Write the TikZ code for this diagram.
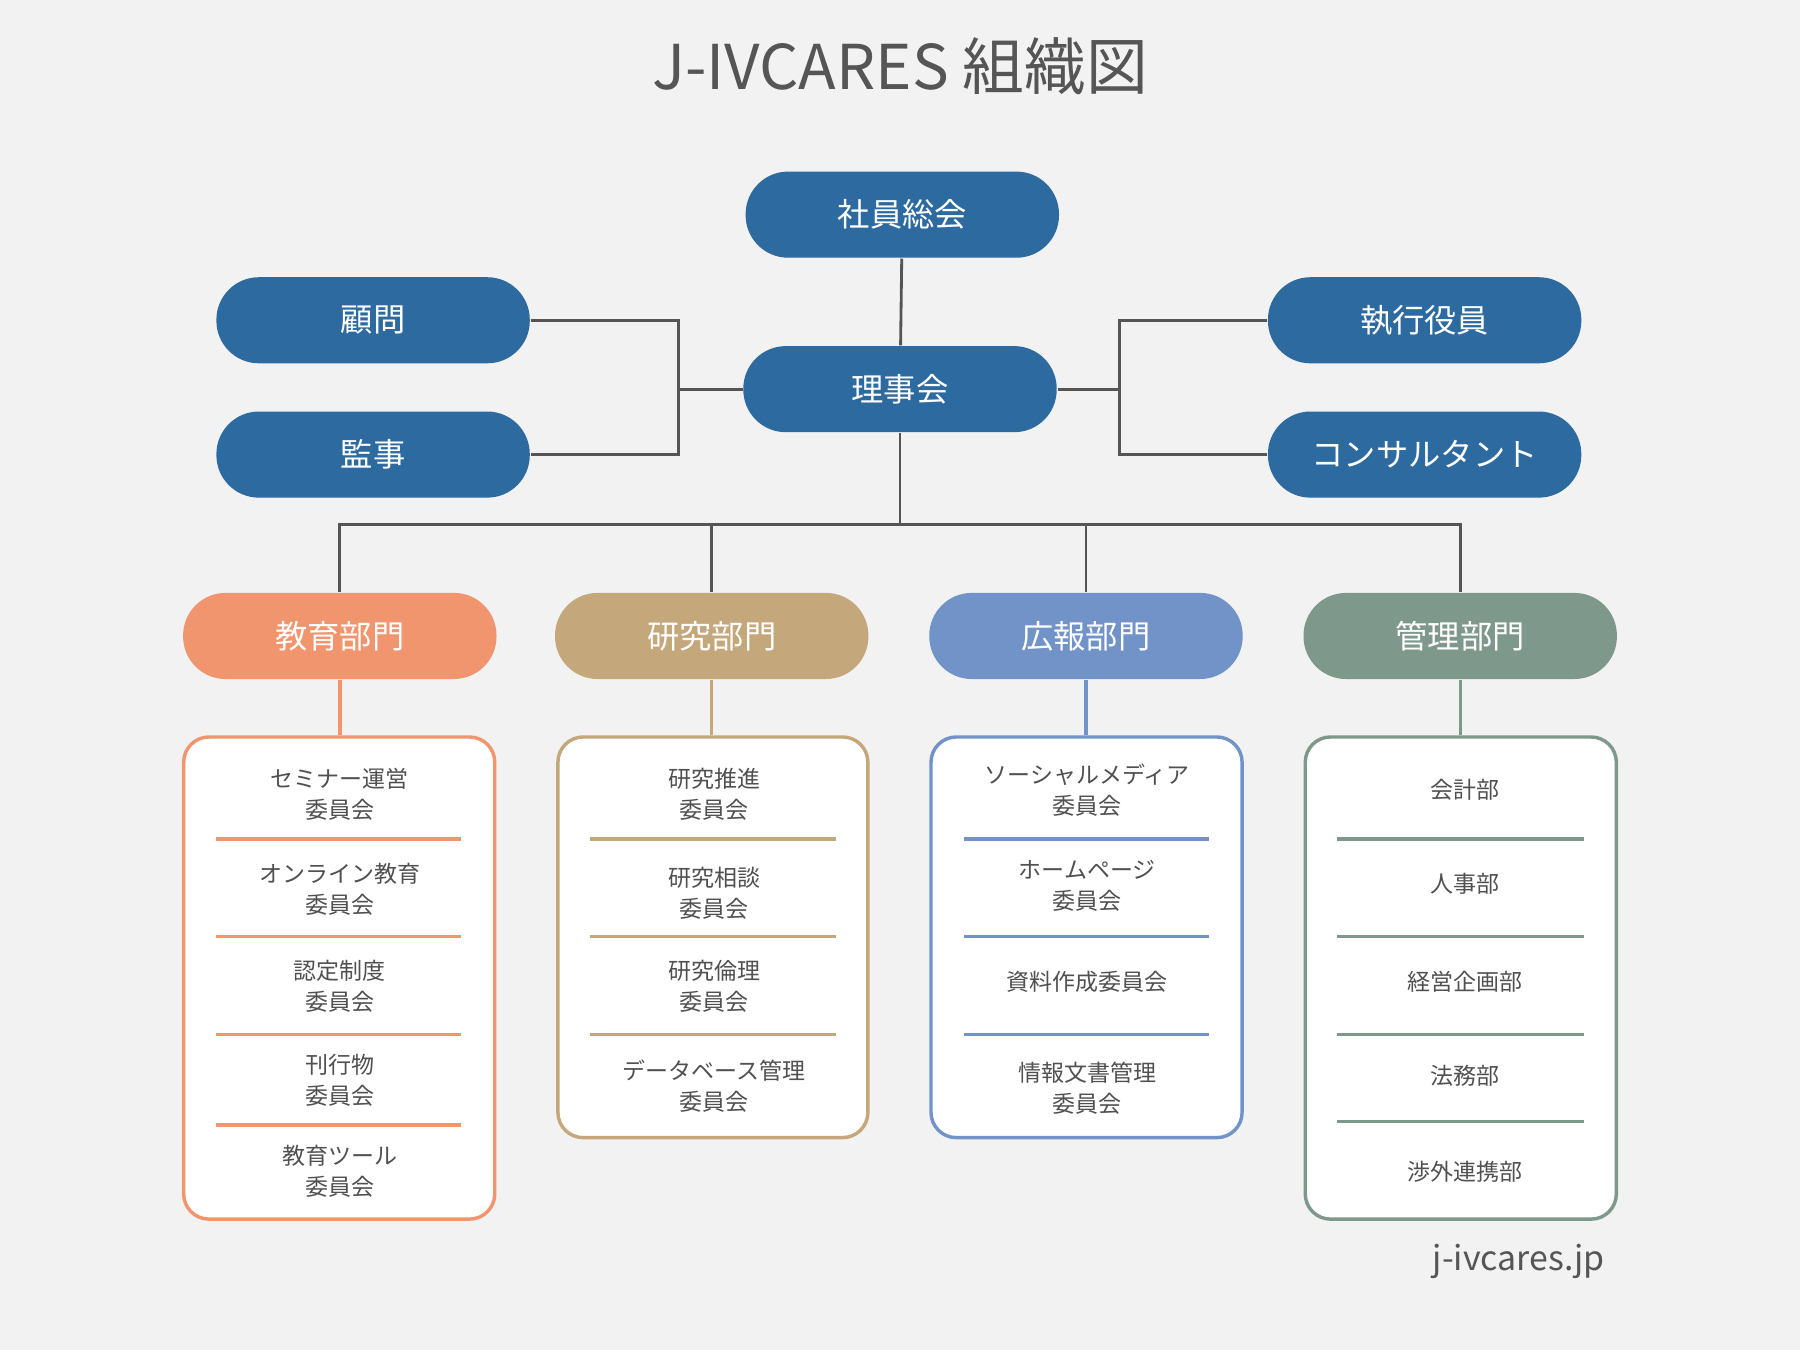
\documentclass[tikz,border=0pt]{standalone}
\usepackage{fontspec}
\setmainfont{Noto Sans CJK JP}
\usetikzlibrary{positioning,calc}

\definecolor{bgcol}{HTML}{F2F2F2}
\definecolor{mainblue}{HTML}{2D6A9F}
\definecolor{educol}{HTML}{F0956D}
\definecolor{rescol}{HTML}{C4A77B}
\definecolor{prcol}{HTML}{7293C7}
\definecolor{mgmtcol}{HTML}{7E998C}
\definecolor{linegray}{HTML}{555555}
\definecolor{txtgray}{HTML}{505050}

\begin{document}
\begin{tikzpicture}[
  every node/.style={font=\fontsize{8}{10}\selectfont},
  pill/.style={rounded corners=0.37cm, minimum width=2.73cm,
               minimum height=0.75cm, text=white, inner sep=0pt},
  unit/.style={draw, line width=0.85pt, fill=white,
               rounded corners=0.22cm, inner sep=0pt},
  item/.style={text=txtgray, align=center,
               font=\fontsize{5.7}{7.7}\selectfont},
  link/.style={draw=linegray, line width=0.7pt},
  sep/.style={line width=0.85pt},
]
\fill[bgcol] (0,0) rectangle (15.68,-11.76);

% Title
\node[text=linegray, font=\fontsize{15.3}{18}\selectfont] (title) at (7.84,-0.58) {J-IVCARES 組織図};

% Top level
\node[pill, fill=mainblue] (assembly) at (7.86,-1.87) {社員総会};
\node[pill, fill=mainblue] (board) at (7.84,-3.39) {理事会};
\node[pill, fill=mainblue] (advisor) at (3.25,-2.79) {顧問};
\node[pill, fill=mainblue] (auditor) at (3.25,-3.96) {監事};
\node[pill, fill=mainblue] (exec) at (12.41,-2.79) {執行役員};
\node[pill, fill=mainblue] (consult) at (12.41,-3.96) {コンサルタント};

\coordinate (ljoin) at (5.91,-3.39);
\coordinate (rjoin) at (9.75,-3.39);
\coordinate (bus) at (7.84,-4.57);

\draw[link] (assembly) -- (board);
\draw[link] (advisor.east) -| (ljoin |- auditor.east) -- (auditor.east);
\draw[link] (ljoin) -- (board.west);
\draw[link] (exec.west) -| (rjoin |- consult.west) -- (consult.west);
\draw[link] (rjoin) -- (board.east);

% Divisions
\node[pill, fill=educol] (edu) at (2.96,-5.54) {教育部門};
\node[pill, fill=rescol] (res) at (6.20,-5.54) {研究部門};
\node[pill, fill=prcol] (pr) at (9.46,-5.54) {広報部門};
\node[pill, fill=mgmtcol] (mgmt) at (12.72,-5.54) {管理部門};

\draw[link] (board.south) -- (bus);
\draw[link] (edu.north) |- (bus) -| (mgmt.north);
\draw[link] (res.north) -- (res.north |- bus);
\draw[link] (pr.north) -- (pr.north |- bus);

% Committee boxes
\node[unit, draw=educol, minimum width=2.71cm, minimum height=4.20cm] (eduBox) at (2.955,-8.52) {};
\node[unit, draw=rescol, minimum width=2.70cm, minimum height=3.49cm] (resBox) at (6.21,-8.165) {};
\node[unit, draw=prcol, minimum width=2.71cm, minimum height=3.49cm] (prBox) at (9.465,-8.165) {};
\node[unit, draw=mgmtcol, minimum width=2.71cm, minimum height=4.20cm] (mgmtBox) at (12.725,-8.52) {};

\draw[sep, educol] (edu.south) -- (edu.south |- eduBox.north);
\draw[sep, rescol] (res.south) -- (res.south |- resBox.north);
\draw[sep, prcol] (pr.south) -- (pr.south |- prBox.north);
\draw[sep, mgmtcol] (mgmt.south) -- (mgmt.south |- mgmtBox.north);

\foreach \y in {7.31,8.16,9.01,9.80}
  \draw[sep, educol] (1.88,-\y) -- (4.02,-\y);
\foreach \y in {7.31,8.16,9.01}
  \draw[sep, rescol] (5.14,-\y) -- (7.28,-\y);
\foreach \y in {7.31,8.16,9.01}
  \draw[sep, prcol] (8.40,-\y) -- (10.53,-\y);
\foreach \y in {7.31,8.16,9.01,9.77}
  \draw[sep, mgmtcol] (11.65,-\y) -- (13.80,-\y);

% Education items
\node[item] (e1) at (2.96,-6.92) {セミナー運営\\委員会};
\node[item] (e2) at (2.96,-7.75) {オンライン教育\\委員会};
\node[item] (e3) at (2.96,-8.59) {認定制度\\委員会};
\node[item] (e4) at (2.96,-9.41) {刊行物\\委員会};
\node[item] (e5) at (2.96,-10.20) {教育ツール\\委員会};

% Research items
\node[item] (r1) at (6.22,-6.92) {研究推進\\委員会};
\node[item] (r2) at (6.22,-7.78) {研究相談\\委員会};
\node[item] (r3) at (6.22,-8.59) {研究倫理\\委員会};
\node[item] (r4) at (6.22,-9.46) {データベース管理\\委員会};

% PR items
\node[item] (p1) at (9.47,-6.88) {ソーシャルメディア\\委員会};
\node[item] (p2) at (9.47,-7.72) {ホームページ\\委員会};
\node[item] (p3) at (9.47,-8.55) {資料作成委員会};
\node[item] (p4) at (9.47,-9.48) {情報文書管理\\委員会};

% Management items
\node[item] (m1) at (12.76,-6.88) {会計部};
\node[item] (m2) at (12.76,-7.70) {人事部};
\node[item] (m3) at (12.76,-8.55) {経営企画部};
\node[item] (m4) at (12.76,-9.37) {法務部};
\node[item] (m5) at (12.76,-10.21) {渉外連携部};

% Footer
\node[text=linegray, font=\fontsize{8.4}{10}\selectfont] (site) at (13.23,-10.99) {j-ivcares.jp};
\end{tikzpicture}
\end{document}
